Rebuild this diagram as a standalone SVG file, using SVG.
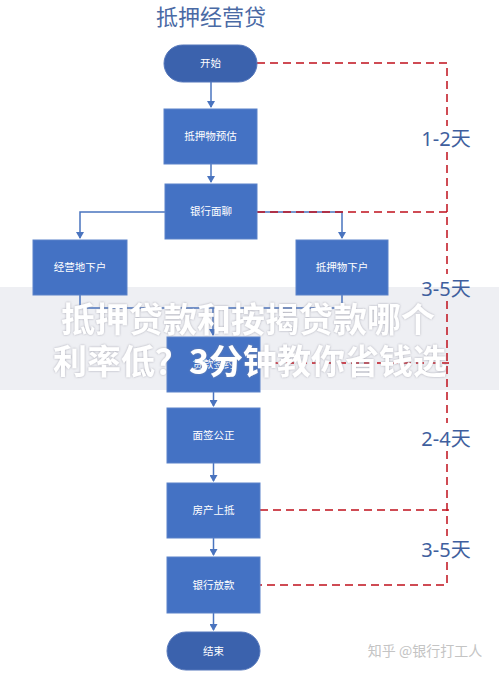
<svg xmlns="http://www.w3.org/2000/svg" width="499" height="679" viewBox="0 0 499 679">
<style>
.box{fill:#4472c4;stroke:#5a82c9;stroke-width:1}
.pill{fill:#3b62ad;stroke:#5577bb;stroke-width:1}
.nt{font-family:"Noto Sans CJK SC","Noto Sans",sans-serif;font-size:10.5px;fill:#ffffff;text-anchor:middle}
.flow{fill:none;stroke:#4a74bf;stroke-width:1.5}
.red{fill:none;stroke:#c0101c;stroke-width:1.5;stroke-dasharray:8 5}
.lbl{font-family:"Noto Sans","Noto Sans CJK SC",sans-serif;font-size:20px;fill:#3f5f9e;text-anchor:middle}
.ban{font-family:"Noto Sans CJK SC",sans-serif;font-size:34px;font-weight:bold;fill:#ffffff;text-anchor:middle}
</style>
<defs>
<marker id="ar" markerWidth="8" markerHeight="8" refX="6" refY="4" orient="auto" markerUnits="userSpaceOnUse">
<path d="M0,0 L7,4 L0,8 Z" fill="#4a74bf"/>
</marker>
<filter id="sh" x="-5%" y="-20%" width="110%" height="140%">
<feDropShadow dx="0" dy="0" stdDeviation="1.2" flood-color="#8a8a99" flood-opacity="0.7"/>
</filter>
</defs>
<rect width="499" height="679" fill="#ffffff"/>
<rect id="banner-bg" x="0" y="287" width="499" height="103" fill="#eeeff3"/>
<text x="211" y="25" font-family="Noto Sans CJK SC,sans-serif" font-size="22px" fill="#4a6aa5" text-anchor="middle">抵押经营贷</text>
<g id="connectors">
<path class="flow" d="M211,82 V107" marker-end="url(#ar)"/>
<path class="flow" d="M211,164 V182" marker-end="url(#ar)"/>
<path class="flow" d="M165,212 H80 V238" marker-end="url(#ar)"/>
<path class="flow" d="M257,212 H342 V238" marker-end="url(#ar)"/>
<path class="flow" d="M80,295 V308 H342 V295"/>
<path class="flow" d="M213,308 V335" marker-end="url(#ar)"/>
<path class="flow" d="M213.5,392 V406" marker-end="url(#ar)"/>
<path class="flow" d="M213.5,463 V481" marker-end="url(#ar)"/>
<path class="flow" d="M213.5,538 V555" marker-end="url(#ar)"/>
<path class="flow" d="M213.5,613 V630" marker-end="url(#ar)"/>
<path class="red" d="M257,63 H447 V126"/>
<path class="red" d="M447,152 V274"/>
<path class="red" d="M447,301 V423"/>
<path class="red" d="M447,451 V536"/>
<path class="red" d="M447,562 V585 H260"/>
<path class="red" d="M257,212 H449"/>
<path class="red" d="M260,363 H449"/>
<path class="red" d="M260,510 H449"/>
</g>
<g id="n-start"><rect class="pill" x="164" y="45" width="93" height="37" rx="18.5"/><text class="nt" x="210.5" y="67">开始</text></g>
<g id="n-estimate"><rect class="box" x="164" y="109" width="93" height="55"/><text class="nt" x="210.5" y="140">抵押物预估</text></g>
<g id="n-interview"><rect class="box" x="165" y="184" width="92" height="55"/><text class="nt" x="211" y="215">银行面聊</text></g>
<g id="n-site"><rect class="box" x="33" y="240" width="94" height="55"/><text class="nt" x="80" y="271">经营地下户</text></g>
<g id="n-collateral"><rect class="box" x="296" y="240" width="92" height="55"/><text class="nt" x="342" y="271">抵押物下户</text></g>
<g id="n-sign"><rect class="box" x="167" y="337" width="93" height="55"/><text class="nt" x="213.5" y="368">贷款签约</text></g>
<g id="n-notary"><rect class="box" x="167" y="408" width="93" height="55"/><text class="nt" x="213.5" y="439">面签公正</text></g>
<g id="n-mortgage"><rect class="box" x="167" y="483" width="93" height="55"/><text class="nt" x="213.5" y="514">房产上抵</text></g>
<g id="n-loan"><rect class="box" x="167" y="557" width="93" height="56"/><text class="nt" x="213.5" y="589">银行放款</text></g>
<g id="n-end"><rect class="pill" x="167" y="632" width="93" height="38" rx="19"/><text class="nt" x="213.5" y="655">结束</text></g>
<g id="labels">
<text class="lbl" x="446" y="146">1-2天</text>
<text class="lbl" x="446" y="296">3-5天</text>
<text class="lbl" x="446" y="446">2-4天</text>
<text class="lbl" x="446" y="557">3-5天</text>
</g>
<g id="banner" filter="url(#sh)">
<text class="ban" x="248" y="332">抵押贷款和按揭贷款哪个</text>
<text class="ban" x="250" y="374">利率低？3分钟教你省钱选</text>
</g>
<text x="425" y="656" font-family="Noto Sans CJK SC,sans-serif" font-size="14px" fill="#c4c4c4" text-anchor="middle">知乎 @银行打工人</text>
</svg>
